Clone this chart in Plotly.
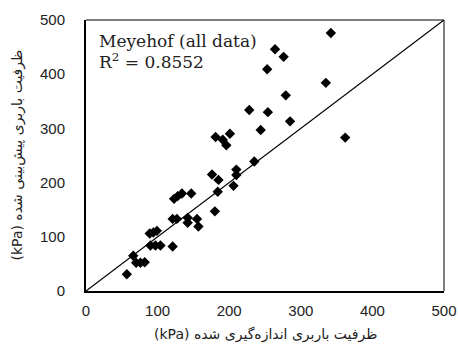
import plotly.graph_objects as go

# Measured vs predicted bearing capacity (kPa)
measured = [57, 66, 70, 76, 82, 89, 94, 99, 90, 97, 104, 121, 121, 127, 142, 142, 155, 157,
            123, 128, 134, 147, 180, 184, 185, 176, 206, 210, 210, 235, 181, 191, 196, 201,
            244, 228, 254, 285, 362, 253, 279, 335, 264, 276, 342]
predicted = [31, 65, 52, 52, 53, 106, 108, 111, 84, 84, 84, 82, 133, 133, 135, 126, 133, 119,
             170, 175, 180, 180, 147, 183, 205, 215, 194, 214, 224, 239, 284, 279, 269, 290,
             297, 334, 330, 313, 283, 409, 361, 384, 446, 432, 476]
line_x = [0, 500]
line_y = [0, 500]
tick_vals = [0, 100, 200, 300, 400, 500]
# visual order (RTL sentence): unit shown at the left end
x_title = "(kPa) ظرفیت باربری اندازه‌گیری شده"
y_title = "(kPa) ظرفیت باربری پیش‌بینی شده"
label_line1 = "Meyehof (all data)"
label_line2 = "R<sup>2</sup> = 0.8552"

fig = go.Figure()
fig.add_trace(go.Scatter(x=line_x, y=line_y, mode="lines",
                         line=dict(color="black", width=1.2), hoverinfo="skip"))
fig.add_trace(go.Scatter(x=measured, y=predicted, mode="markers",
                         marker=dict(symbol="diamond", size=8, color="black")))

tick_font = dict(family="Liberation Sans, Arial, sans-serif", size=15, color="#222")
title_font = dict(family="DejaVu Sans, sans-serif", size=14, color="#222")
serif_font = dict(family="DejaVu Serif, serif", size=17, color="#222")
fig.update_layout(
    width=458, height=351,
    margin=dict(l=86, r=14, t=20, b=60, autoexpand=False),
    paper_bgcolor="white", plot_bgcolor="white",
    showlegend=False,
    xaxis=dict(range=[0, 500], tickvals=tick_vals, showgrid=False, zeroline=False,
               showline=True, linecolor="black", linewidth=2, ticks="",
               ticklabelstandoff=5, tickfont=tick_font, fixedrange=True, automargin=False),
    yaxis=dict(range=[0, 500], tickvals=tick_vals, showgrid=False, zeroline=False,
               showline=True, linecolor="black", linewidth=2, ticks="",
               ticklabelstandoff=16, tickfont=tick_font, fixedrange=True, automargin=False),
    shapes=[
        dict(type="line", xref="x domain", yref="y domain", x0=0, x1=1, y0=1, y1=1,
             line=dict(color="black", width=1)),
        dict(type="line", xref="x domain", yref="y domain", x0=1, x1=1, y0=0, y1=1,
             line=dict(color="black", width=1)),
    ],
    annotations=[
        dict(text=x_title, xref="paper", yref="paper", x=0.5, y=0, xanchor="center",
             yanchor="middle", yshift=-43, showarrow=False, font=title_font),
        dict(text=y_title, xref="paper", yref="paper", x=0, y=0.5, xanchor="center",
             yanchor="middle", xshift=-69, textangle=-90, showarrow=False, font=title_font),
        dict(text=label_line1, xref="paper", yref="paper", x=0, y=1,
             xanchor="left", yanchor="middle", xshift=11, yshift=-21,
             showarrow=False, font=serif_font),
        dict(text=label_line2, xref="paper", yref="paper", x=0, y=1,
             xanchor="left", yanchor="middle", xshift=11, yshift=-41,
             showarrow=False, font=serif_font),
    ],
)

fig.write_html("out.html", config={"displayModeBar": False},
               post_script="document.body.style.margin='0';document.body.style.overflow='hidden';")
